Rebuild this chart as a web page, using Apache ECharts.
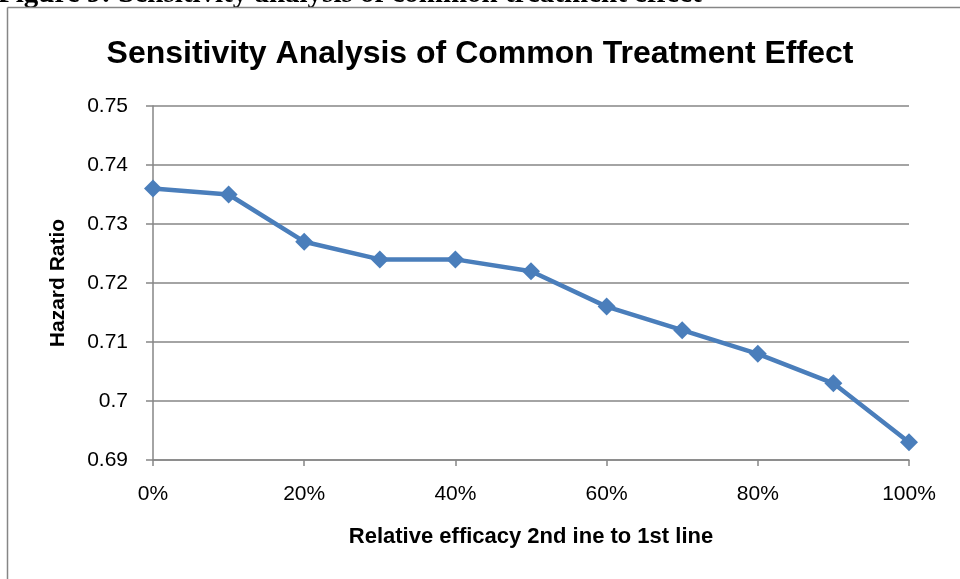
<!DOCTYPE html>
<html><head><meta charset="utf-8">
<script src="https://cdn.jsdelivr.net/npm/echarts@6/dist/echarts.min.js"></script>
<style>html,body{margin:0;padding:0;background:#fff}#c{width:960px;height:579px}</style>
</head><body><div id="c"></div>
<script>
const xValues = [0, 0.1, 0.2, 0.3, 0.4, 0.5, 0.6, 0.7, 0.8, 0.9, 1.0];
const hazardRatio = [0.736, 0.735, 0.727, 0.724, 0.724, 0.722, 0.716, 0.712, 0.708, 0.703, 0.693];
const titleText = 'Sensitivity Analysis of Common Treatment Effect';
const captionText = 'Figure 9: Sensitivity analysis of common treatment effect';
const xName = 'Relative efficacy 2nd ine to 1st line';
const yName = 'Hazard Ratio';

const chart = echarts.init(document.getElementById('c'), null, {renderer: 'canvas'});
const font = 'Liberation Sans';
chart.setOption({
  animation: false,
  backgroundColor: '#fff',
  title: {
    text: titleText, left: 'center', top: 33,
    textStyle: {fontFamily: font, fontWeight: 'bold', fontSize: 32, color: '#000'}
  },
  graphic: [
    {type: 'text', left: -2, top: -20, style: {text: captionText, font: 'bold 29px "Liberation Serif"', fill: '#000'}},
    {type: 'line', shape: {x1: 7.5, y1: 7.5, x2: 960, y2: 7.5}, style: {stroke: '#868686', lineWidth: 1.5}},
    {type: 'line', shape: {x1: 7.5, y1: 7.5, x2: 7.5, y2: 579}, style: {stroke: '#868686', lineWidth: 1.5}}
  ],
  grid: {left: 153, right: 51, top: 106, bottom: 119, containLabel: false},
  xAxis: {
    type: 'value', min: 0, max: 1, interval: 0.2,
    name: xName, nameLocation: 'middle', nameGap: 66,
    nameTextStyle: {fontFamily: font, fontWeight: 'bold', fontSize: 22, color: '#000'},
    axisLine: {lineStyle: {color: '#868686', width: 1.5}},
    axisTick: {show: true, length: 6, lineStyle: {color: '#868686', width: 1.5}},
    axisLabel: {fontFamily: font, fontSize: 21, color: '#000', margin: 24,
      formatter: v => Math.round(v * 100) + '%'},
    splitLine: {show: false}
  },
  yAxis: {
    type: 'value', min: 0.69, max: 0.75, interval: 0.01,
    name: yName, nameLocation: 'middle', nameGap: 84, nameRotate: 90,
    nameTextStyle: {fontFamily: font, fontWeight: 'bold', fontSize: 21, color: '#000'},
    axisLine: {show: true, lineStyle: {color: '#868686', width: 1.5}},
    axisTick: {show: true, length: 7, lineStyle: {color: '#868686', width: 1.5}},
    axisLabel: {fontFamily: font, fontSize: 21, color: '#000', margin: 25,
      formatter: v => String(parseFloat(v.toFixed(3)))},
    splitLine: {show: true, lineStyle: {color: '#868686', width: 1.5}}
  },
  series: [{
    type: 'line',
    data: xValues.map((x, i) => [x, hazardRatio[i]]),
    symbol: 'diamond', symbolSize: 18,
    lineStyle: {color: '#4a7ebb', width: 4.5},
    itemStyle: {color: '#4a7ebb'}
  }]
});
</script></body></html>
